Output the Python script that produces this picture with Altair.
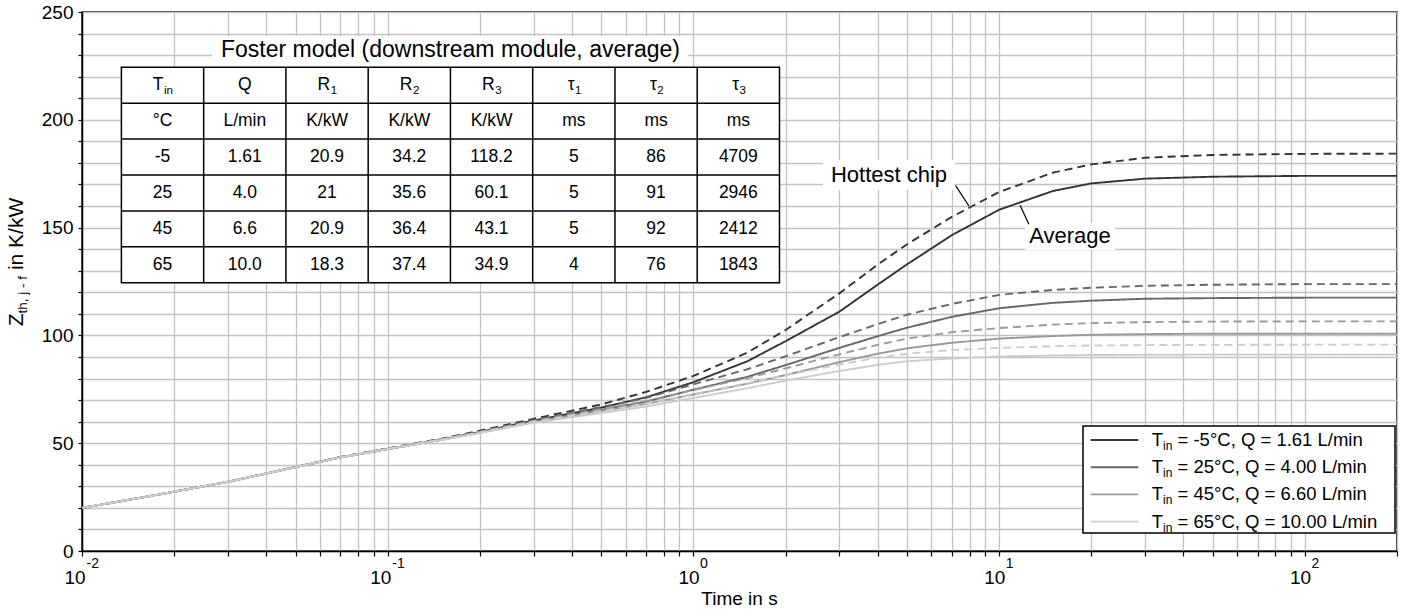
import altair as alt
import pandas as pd

# ------------------------------------------------------------------ data
time_s = [0.01, 0.015, 0.02, 0.03, 0.05, 0.07, 0.1, 0.15, 0.2, 0.3, 0.5, 0.7,
          1, 1.5, 2, 3, 4, 5, 7, 10, 15, 20, 30, 50, 100, 200]

avg_m5 = [20, 24.3, 27.5, 32.1, 38.9, 43.4, 47.3, 51.7, 55.2, 60.5, 66.5, 71.3,
          78.3, 88, 97.3, 111, 123.5, 133, 146.5, 158.3, 167, 170.5, 172.7, 173.6, 174, 174]
hot_m5 = [20, 24.3, 27.5, 32.1, 39, 43.6, 47.6, 52.1, 55.8, 61.3, 68, 73.8,
          81.2, 92, 102.5, 119.5, 132.8, 142.3, 155, 166.5, 175.5, 179.3, 182.4, 183.7, 184.2, 184.3]
avg_25 = [20, 24.3, 27.5, 32.1, 38.9, 43.4, 47.3, 51.6, 55, 60, 65.5, 69.3,
          74.8, 80.8, 86.2, 94.2, 99.6, 103.6, 108.6, 112.6, 115.1, 116.1, 117, 117.3, 117.5, 117.5]
hot_25 = [20, 24.3, 27.5, 32.1, 38.9, 43.5, 47.5, 51.9, 55.4, 60.7, 66.8, 71,
          77.3, 84.3, 90.3, 99.2, 105.2, 109.6, 114.6, 118.8, 121.1, 122.1, 123, 123.5, 123.8, 123.8]
avg_45 = [20, 24.3, 27.5, 32.1, 38.9, 43.4, 47.3, 51.6, 54.9, 59.8, 65, 68.2,
          72.6, 77.6, 81.6, 87.6, 91.5, 94, 96.6, 98.5, 99.7, 100.3, 100.6, 100.8, 100.8, 100.8]
hot_45 = [20, 24.3, 27.5, 32.1, 38.9, 43.4, 47.4, 51.8, 55.2, 60.3, 65.9, 69.5,
          74.7, 80.2, 84.7, 91.2, 95.6, 98.5, 101.5, 103.4, 105, 105.7, 106.2, 106.4, 106.5, 106.5]
avg_65 = [20, 24.3, 27.5, 32.1, 38.9, 43.4, 47.3, 51.5, 54.7, 59.5, 64, 67,
          71, 75.5, 79, 83.5, 86.3, 88, 89.3, 90.2, 90.7, 90.9, 91, 91.1, 91.1, 91.1]
hot_65 = [20, 24.3, 27.5, 32.1, 38.9, 43.4, 47.4, 51.7, 55, 60, 65, 68.3,
          72.8, 77.8, 81.5, 86.5, 89.7, 91.5, 93.2, 94.2, 95, 95.3, 95.5, 95.6, 95.7, 95.7]

series_keys = ["-5", "25", "45", "65"]
legend_rest = ["= -5°C, Q = 1.61 L/min", "= 25°C, Q = 4.00 L/min",
               "= 45°C, Q = 6.60 L/min", "= 65°C, Q = 10.00 L/min"]
line_colors = ["#333333", "#666666", "#999999", "#cccccc"]

tbl_sym = ["T", "Q", "R", "R", "R", "τ", "τ", "τ"]
tbl_sub = ["in", "", "1", "2", "3", "1", "2", "3"]
tbl_units = ["°C", "L/min", "K/kW", "K/kW", "K/kW", "ms", "ms", "ms"]
tbl_rows = [
    ["-5", "1.61", "20.9", "34.2", "118.2", "5", "86", "4709"],
    ["25", "4.0", "21", "35.6", "60.1", "5", "91", "2946"],
    ["45", "6.6", "20.9", "36.4", "43.1", "5", "92", "2412"],
    ["65", "10.0", "18.3", "37.4", "34.9", "4", "76", "1843"],
]
tbl_title = "Foster model (downstream module, average)"

decades = [0.01, 0.1, 1, 10, 100]
decade_exp = ["-2", "-1", "0", "1", "2"]

# ------------------------------------------------------------------ layout
W, H = 1315, 539
FONT = "Liberation Sans, Arial, Helvetica, sans-serif"
GRID = "#c2c2c2"

XS = alt.Scale(type="log", domain=[0.01, 200], nice=False)
YS = alt.Scale(domain=[0, 250], nice=False, zero=True)
PXX = alt.Scale(domain=[0, W], range=[0, W], nice=False, zero=False)
PXY = alt.Scale(domain=[0, H], range=[0, H], nice=False, zero=False)
CS = alt.Scale(domain=series_keys, range=line_colors)

minor_ticks = [round(m * 10.0 ** k, 6) for k in range(-2, 3) for m in range(1, 10)
               if m * 10.0 ** k <= 200.0001] + [200]

# curves
rows = []
for key, avg, hot in zip(series_keys, [avg_m5, avg_25, avg_45, avg_65],
                         [hot_m5, hot_25, hot_45, hot_65]):
    for t, v in zip(time_s, avg):
        rows.append(dict(t=t, z=v, series=key, kind="Average", grp=key + "a"))
    for t, v in zip(time_s, hot):
        rows.append(dict(t=t, z=v, series=key, kind="Hottest chip", grp=key + "h"))
curves_df = pd.DataFrame(rows)

lines = alt.Chart(curves_df).mark_line(strokeWidth=1.9).encode(
    x=alt.X("t:Q", scale=XS, title=None,
            axis=alt.Axis(values=minor_ticks, labels=False, grid=True, gridColor=GRID,
                          gridWidth=1.3, tickSize=5, tickColor="black", domainColor="black",
                          domainWidth=1.5, tickWidth=1.2)),
    y=alt.Y("z:Q", scale=YS, title=None,
            axis=alt.Axis(values=list(range(0, 251, 10)),
                          labelExpr="datum.value % 50 == 0 ? datum.label : ''",
                          grid=True, gridColor=GRID, gridWidth=1.3, tickSize=4,
                          tickColor="black", domainColor="black", domainWidth=1.5,
                          tickWidth=1.2, labelFont=FONT, labelFontSize=19,
                          labelColor="black", labelPadding=5)),
    color=alt.Color("series:N", scale=CS, legend=None),
    strokeDash=alt.StrokeDash("kind:N", scale=alt.Scale(domain=["Average", "Hottest chip"],
                                                         range=[[1, 0], [8, 5]]), legend=None),
    detail="grp:N",
    order="t:Q",
)

dec_df = pd.DataFrame({"t": decades, "exp": decade_exp, "base": ["10"] * len(decades)})
dec_neg = dec_df[dec_df["exp"].str.startswith("-")]
dec_pos = dec_df[~dec_df["exp"].str.startswith("-")]


def xlab(df, field, dx, dy, size):
    return alt.Chart(df).mark_text(font=FONT, fontSize=size, align="left",
                                   baseline="alphabetic", dx=dx, color="black").encode(
        x=alt.X("t:Q", scale=XS, title=None), y=alt.value(H + dy), text=f"{field}:N")


data_group = alt.layer(
    lines,
    xlab(dec_neg, "base", -17.5, 33, 19),
    xlab(dec_pos, "base", -15, 33, 19),
    xlab(dec_neg, "exp", 4.5, 17, 14),
    xlab(dec_pos, "exp", 6.5, 17, 14),
)

# ---------------------------------------------------------------- overlay (pixels)
TX0, CW, TY0, RH = 39.4, 82.26, 55.3, 35.9
NC, NR = 8, 6
LX0, LX1, LY0, LY1 = 1001, 1313, 414, 521
LROW0, LROWH = 428, 27.2


def pchart(df):
    return alt.Chart(df)


def penc(c, **extra):
    return c.encode(x=alt.X("px:Q", scale=PXX, axis=None),
                    y=alt.Y("py:Q", scale=PXY, axis=None), text="label:N", **extra)


def prect_enc(c):
    return c.encode(x=alt.X("x1:Q", scale=PXX, axis=None), x2="x2:Q",
                    y=alt.Y("y1:Q", scale=PXY, axis=None), y2="y2:Q")


plain_boxes = pd.DataFrame([
    dict(x1=130, x2=606, y1=24, y2=56),      # table title
    dict(x1=741, x2=873, y1=148, y2=178),    # Hottest chip
    dict(x1=943, x2=1033, y1=211, y2=238),   # Average
])
framed_boxes = pd.DataFrame([
    dict(x1=TX0, x2=TX0 + NC * CW, y1=TY0, y2=TY0 + NR * RH),
    dict(x1=LX0, x2=LX1, y1=LY0, y2=LY1),
])
rules = []
for r in range(1, NR):
    rules.append(dict(x1=TX0, x2=TX0 + NC * CW, y1=TY0 + r * RH, y2=TY0 + r * RH))
for c in range(1, NC):
    rules.append(dict(x1=TX0 + c * CW, x2=TX0 + c * CW, y1=TY0, y2=TY0 + NR * RH))
rules_df = pd.DataFrame(rules)

cells = []
for c, u in enumerate(tbl_units):
    cells.append(dict(px=TX0 + (c + 0.5) * CW, py=TY0 + 1.5 * RH, label=u))
for r, row in enumerate(tbl_rows):
    for c, v in enumerate(row):
        cells.append(dict(px=TX0 + (c + 0.5) * CW, py=TY0 + (r + 2.5) * RH, label=v))
cells_df = pd.DataFrame(cells)

FS_T, FS_SUB = 17.5, 11.5
em = {"T": 0.611, "Q": 0.778, "R": 0.722, "τ": 0.45, "in": 0.778, "": 0.0,
      "1": 0.556, "2": 0.556, "3": 0.556}
hs, hsub = [], []
for c, (s, sb) in enumerate(zip(tbl_sym, tbl_sub)):
    cx = TX0 + (c + 0.5) * CW
    off = (em[s] * FS_T - em[sb] * FS_SUB) / 2
    hs.append(dict(px=cx + off, py=TY0 + 0.5 * RH, label=s))
    if sb:
        hsub.append(dict(px=cx + off + 0.5, py=TY0 + 0.5 * RH + 6, label=sb))
hs_df, hsub_df = pd.DataFrame(hs), pd.DataFrame(hsub)

title_df = pd.DataFrame([dict(px=TX0 + 4 * CW, py=44.5, label=tbl_title)])
annot_df = pd.DataFrame([dict(px=807, py=169.5, label="Hottest chip"),
                         dict(px=988, py=231, label="Average")])

FS_L = 18.5
leg_T, leg_in, leg_rest, leg_lines = [], [], [], []
for i, (key, txt) in enumerate(zip(series_keys, legend_rest)):
    yy = LROW0 + i * LROWH
    leg_T.append(dict(px=1069.7, py=yy, label="T"))
    leg_in.append(dict(px=1069.7 + 0.611 * FS_L, py=yy + 6, label="in"))
    leg_rest.append(dict(px=1069.7 + 0.611 * FS_L + 0.778 * 12 + 0.278 * FS_L, py=yy, label=txt))
    leg_lines.append(dict(x1=1008.7, x2=1056.3, y1=yy, series=key))
legT_df, legin_df, legrest_df = pd.DataFrame(leg_T), pd.DataFrame(leg_in), pd.DataFrame(leg_rest)
leglines_df = pd.DataFrame(leg_lines)

one = pd.DataFrame({"a": [0]})
FS_Y, FS_YS = 21, 13.5
wZ, wsub, wrest = 0.611 * FS_Y, 2.78 * FS_YS, 3.723 * FS_Y
Ltot = wZ + wsub + wrest
ys = 250 + Ltot / 2
YX = -65


def vtext(label, x, y, size):
    return alt.Chart(one).mark_text(font=FONT, fontSize=size, angle=270, align="left",
                                    baseline="middle", color="black").encode(
        x=alt.value(x), y=alt.value(y), text=alt.value(label))


overlay = alt.layer(
    prect_enc(pchart(plain_boxes).mark_rect(fill="white", strokeWidth=0)),
    prect_enc(pchart(framed_boxes).mark_rect(fill="white", stroke="black", strokeWidth=1.5)),
    prect_enc(pchart(rules_df).mark_rule(color="black", strokeWidth=1.5)),
    pchart(leglines_df).mark_rule(strokeWidth=1.9).encode(
        x=alt.X("x1:Q", scale=PXX, axis=None), x2="x2:Q",
        y=alt.Y("y1:Q", scale=PXY, axis=None),
        color=alt.Color("series:N", scale=CS, legend=None)),
    penc(pchart(cells_df).mark_text(font=FONT, fontSize=FS_T, align="center",
                                    baseline="middle", color="black")),
    penc(pchart(hs_df).mark_text(font=FONT, fontSize=FS_T, align="right",
                                 baseline="middle", color="black")),
    penc(pchart(hsub_df).mark_text(font=FONT, fontSize=FS_SUB, align="left",
                                   baseline="middle", color="black")),
    penc(pchart(title_df).mark_text(font=FONT, fontSize=23, align="center",
                                    baseline="alphabetic", color="black")),
    penc(pchart(annot_df).mark_text(font=FONT, fontSize=22, align="center",
                                    baseline="alphabetic", color="black")),
    penc(pchart(legT_df).mark_text(font=FONT, fontSize=FS_L, align="left",
                                   baseline="middle", color="black")),
    penc(pchart(legin_df).mark_text(font=FONT, fontSize=12, align="left",
                                    baseline="middle", color="black")),
    penc(pchart(legrest_df).mark_text(font=FONT, fontSize=FS_L, align="left",
                                      baseline="middle", color="black")),
    vtext("Z", YX, ys, FS_Y),
    vtext("th, j - f", YX + 5.5, ys - wZ, FS_YS),
    vtext("in K/kW", YX, ys - wZ - wsub - 0.278 * FS_Y, FS_Y),
    alt.Chart(one).mark_text(font=FONT, fontSize=19, align="center", baseline="alphabetic",
                             color="black").encode(
        x=alt.value(W / 2), y=alt.value(H + 54), text=alt.value("Time in s")),
)

lead_df = pd.DataFrame([dict(t1=7.2, z1=169.5, t2=7.96, z2=160.0),
                        dict(t1=11.7, z1=160.4, t2=12.5, z2=151.5)])
leaders = alt.Chart(lead_df).mark_rule(color="black", strokeWidth=1.2).encode(
    x=alt.X("t1:Q", scale=XS, axis=None), x2="t2:Q",
    y=alt.Y("z1:Q", scale=YS, axis=None), y2="z2:Q")

chart = alt.layer(data_group, overlay, leaders).resolve_scale(
    x="independent", y="independent"
).properties(
    width=W, height=H,
    padding={"left": 82, "top": 12, "right": 11, "bottom": 64},
    autosize=alt.AutoSizeParams(type="none"),
    background="white",
).configure_view(stroke="black", strokeWidth=1.5)

chart.save("out.html", embed_options={"renderer": "svg", "actions": False})
